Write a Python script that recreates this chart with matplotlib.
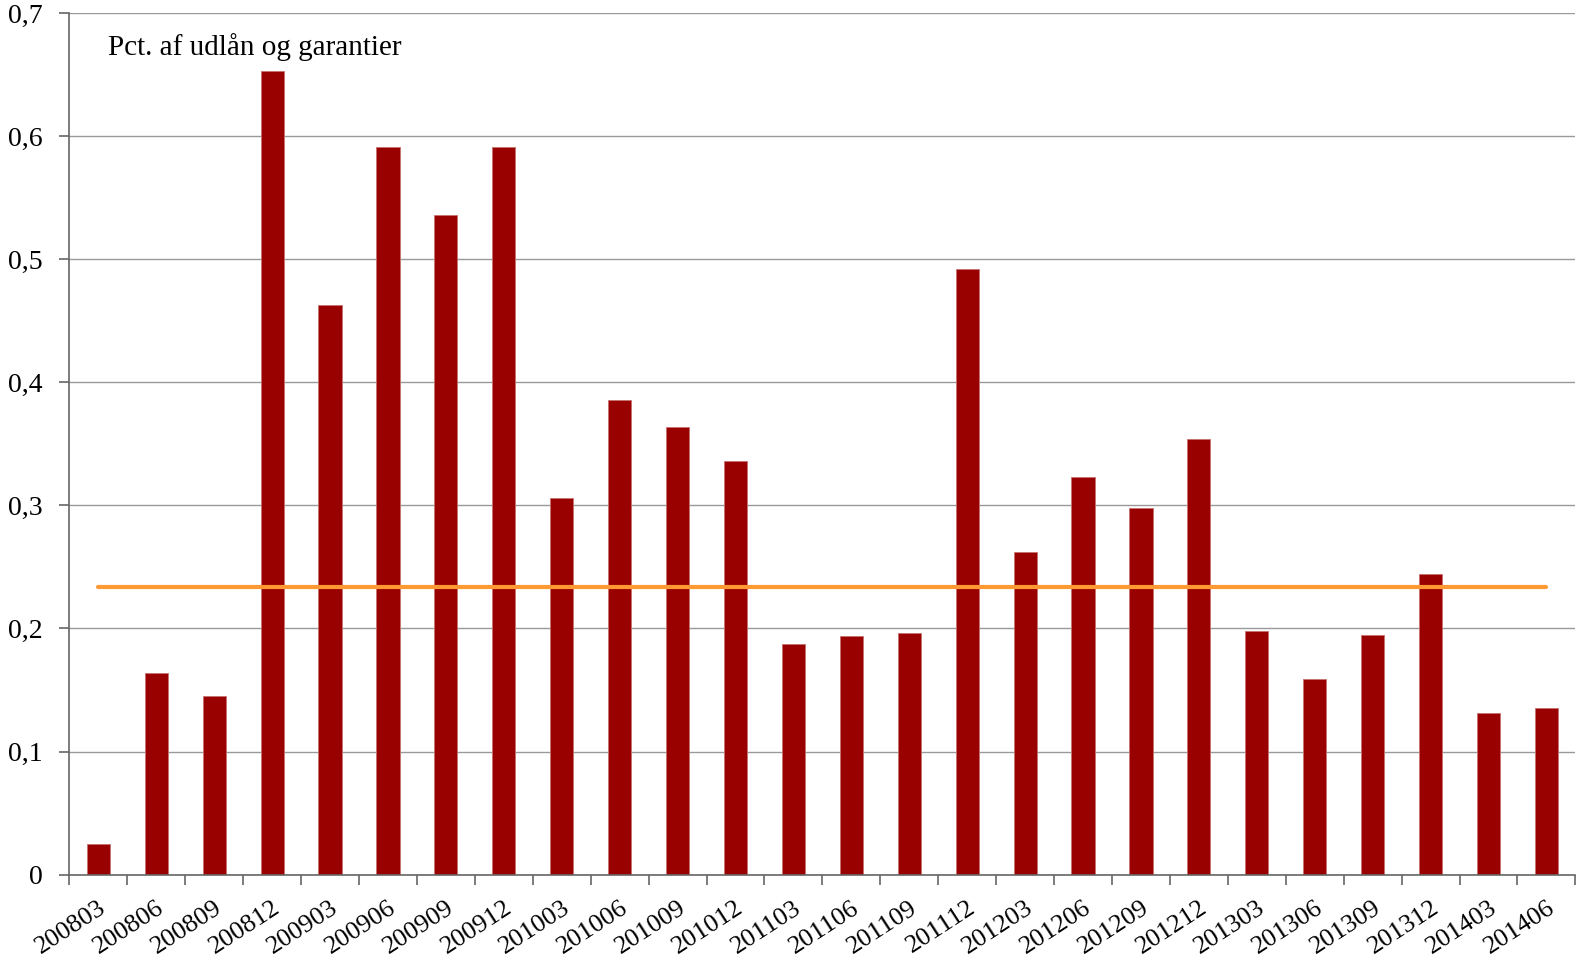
import matplotlib.pyplot as plt
import numpy as np

quarters = ["200803", "200806", "200809", "200812", "200903", "200906", "200909", "200912",
            "201003", "201006", "201009", "201012", "201103", "201106", "201109", "201112",
            "201203", "201206", "201209", "201212", "201303", "201306", "201309", "201312",
            "201403", "201406"]
losses = [0.025, 0.164, 0.145, 0.653, 0.463, 0.591, 0.536, 0.591,
          0.306, 0.386, 0.364, 0.336, 0.187, 0.194, 0.196, 0.492,
          0.262, 0.323, 0.298, 0.354, 0.198, 0.159, 0.195, 0.244,
          0.131, 0.135]
average = 0.234
y_ticks = [0, 0.1, 0.2, 0.3, 0.4, 0.5, 0.6, 0.7]
y_labels = ["0", "0,1", "0,2", "0,3", "0,4", "0,5", "0,6", "0,7"]

plt.rcParams['font.family'] = ['Liberation Serif', 'DejaVu Serif']

fig = plt.figure(figsize=(15.77, 9.63), dpi=100)
ax = fig.add_axes([0.044, 0.0918, 0.955, 0.8946])

x = np.arange(len(quarters))
ax.bar(x, losses, width=0.4, color="#990000", edgecolor="#c87070", linewidth=0.6, zorder=2)
ax.plot([x[0], x[-1]], [average, average], color="#ff9933", linewidth=3, solid_capstyle="round", zorder=3)

ax.set_xlim(-0.5, len(quarters) - 0.5)
ax.set_ylim(0, 0.7)

ax.set_yticks(y_ticks)
ax.set_yticklabels(y_labels, fontsize=20)
ax.yaxis.grid(True, color="#999999", linewidth=1, zorder=0)
ax.set_axisbelow(True)

ax.set_xticks(x)
ax.set_xticklabels(quarters, fontsize=19, rotation=33, ha="right", rotation_mode="anchor")
ax.set_xticks(np.arange(-0.5, len(quarters), 1), minor=True)
ax.tick_params(axis="x", which="major", length=0, pad=16)
ax.tick_params(axis="x", which="minor", length=7, width=1.2, color="#666666")
ax.tick_params(axis="y", length=7, width=1.2, color="#666666", pad=12)

for s in ["top", "right"]:
    ax.spines[s].set_visible(False)
for s in ["left", "bottom"]:
    ax.spines[s].set_color("#666666")
    ax.spines[s].set_linewidth(1.2)

ax.text(0.0255, 0.977, "Pct. af udlån og garantier", transform=ax.transAxes, fontsize=21, va="top", ha="left")

plt.savefig("out.png")
